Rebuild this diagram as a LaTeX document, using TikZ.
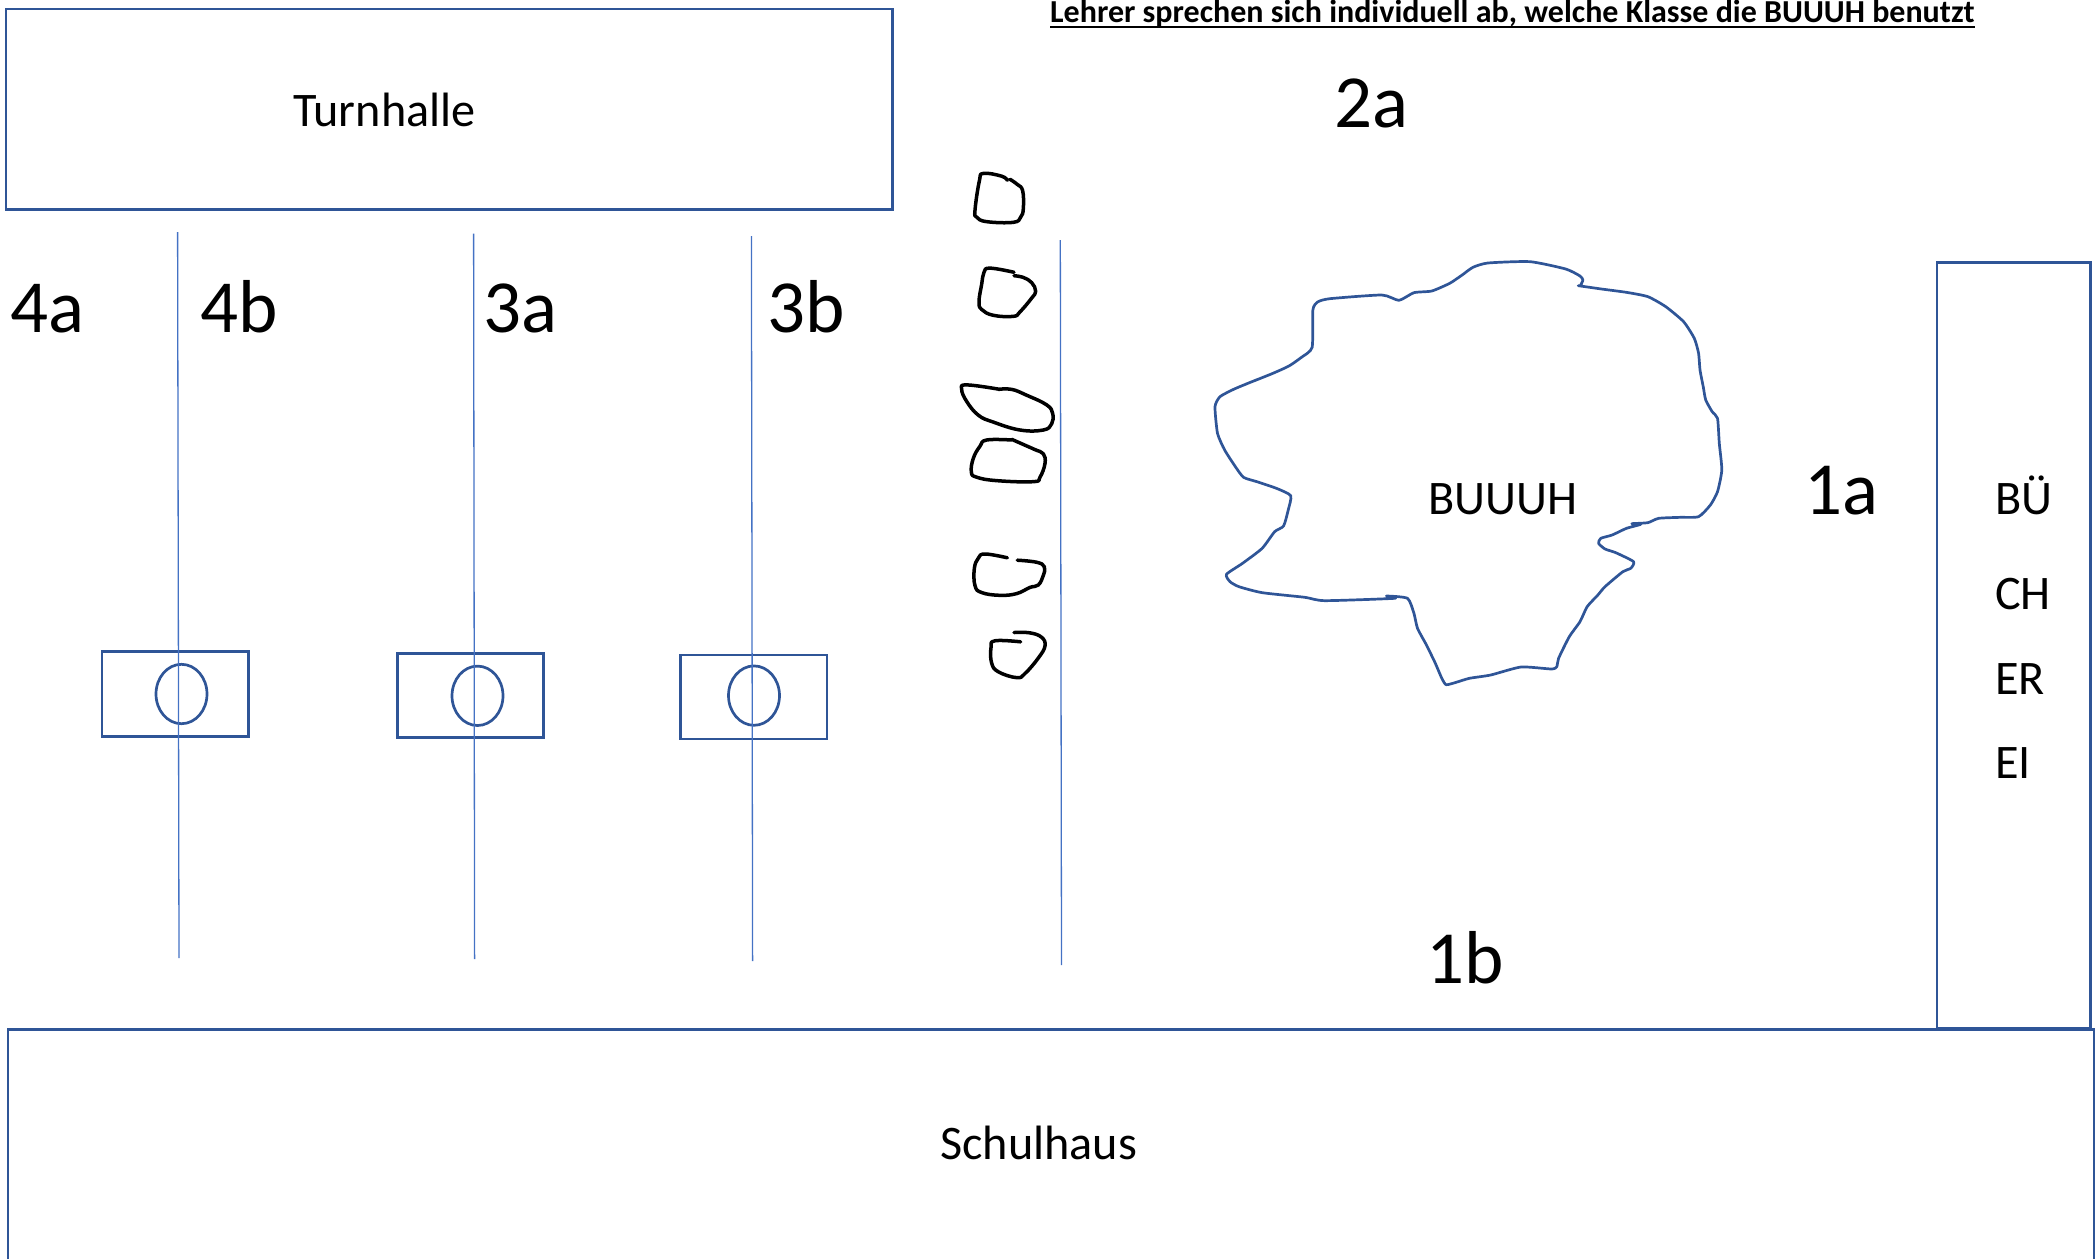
\documentclass[tikz,border=0pt]{standalone}
\usepackage{fontspec}
\setmainfont{Carlito}
\definecolor{shapeblue}{HTML}{2F5597}
\definecolor{lineblue}{HTML}{4472C4}
\tikzset{
  x=1pt,y=-1pt,
  outlinebox/.style={draw=shapeblue,line width=2.8pt},
  thinline/.style={draw=lineblue,line width=1.3pt},
  inkblack/.style={draw=black,line width=3.5pt,line cap=round,line join=round},
  inkblue/.style={draw=shapeblue,line width=2.7pt,line cap=round,line join=round},
  biglabel/.style={anchor=base west,inner sep=0pt,font=\fontsize{75}{80}\selectfont},
  midlabel/.style={anchor=base west,inner sep=0pt,font=\fontsize{48.2}{52}\selectfont},
  titlelabel/.style={anchor=base west,inner sep=0pt,font=\bfseries\fontsize{32}{36}\selectfont}
}
\begin{document}
\begin{tikzpicture}
\useasboundingbox (0,0) rectangle (2096,1259);
% buildings
\draw[outlinebox] (6,9) rectangle (892.5,209.5);
\draw[outlinebox] (1937,262.5) rectangle (2090.5,1028);
\draw[outlinebox] (8,1259) -- (8,1029.5) -- (2094,1029.5) -- (2094,1259);
% goals
\draw[outlinebox] (102,651.7) rectangle (248.4,736.3);
\draw[outlinebox] (397.3,653.3) rectangle (543.8,737.7);
\draw[outlinebox] (680.5,655) rectangle (827,739);
\draw[inkblue] (181.5,694) ellipse [x radius=25.5,y radius=29.7];
\draw[inkblue] (477.5,695.8) ellipse [x radius=25.5,y radius=29.7];
\draw[inkblue] (754,695.6) ellipse [x radius=25.5,y radius=29.7];
% court lines
\draw[thinline] (177.6,232) -- (179,958);
\draw[thinline] (473.6,233.5) -- (474.6,959);
\draw[thinline] (751.4,236) -- (752.6,961);
\draw[thinline] (1060.3,240) -- (1061.5,965);
% stones
\begin{scope}[shift={(930,150)},x=0.3333pt,y=-0.3444pt]
\draw[inkblack] plot[smooth,tension=0.7] coordinates {(232,88)(215,76)(160,68)(148,90)(135,175)(140,195)(170,208)(250,210)(272,195)(280,170)(278,118)(262,100)(240,85)};
\draw[inkblack] plot[smooth,tension=0.7] coordinates {(252,355)(180,343)(162,355)(155,390)(147,440)(155,463)(190,480)(250,483)(270,470)(305,430)(317,410)(305,385)(280,370)(252,365)};
\draw[inkblack] plot[smooth,tension=0.7] coordinates {(210,695)(110,682)(95,695)(110,730)(145,770)(190,790)(270,813)(340,813)(365,795)(368,765)(350,740)(290,712)(245,695)(205,695)};
\draw[inkblack] plot[smooth,tension=0.7] coordinates {(245,842)(170,842)(150,860)(130,895)(124,935)(140,950)(200,960)(310,963)(330,950)(345,910)(340,882)(315,870)(280,855)(245,840)};
\draw[inkblack] plot[smooth,tension=0.7] coordinates {(232,1184)(165,1173)(145,1185)(133,1215)(135,1265)(155,1285)(210,1293)(260,1288)(300,1270)(325,1263)(340,1235)(343,1210)(320,1197)(262,1191)};
\draw[inkblack] plot[smooth,tension=0.7] coordinates {(272,1428)(195,1425)(183,1445)(185,1490)(205,1515)(260,1532)(285,1520)(325,1475)(345,1440)(335,1415)(300,1402)(252,1401)};
\end{scope}
% BUUUH outline
\begin{scope}[shift={(1180,240)},x=0.35714pt,y=-0.33333pt]
\draw[inkblue] plot[smooth,tension=0.35] coordinates {(1115,137)(1180,147)(1250,157)(1310,170)(1360,200)(1410,245)(1440,295)(1452,340)(1456,390)(1465,440)(1472,480)(1490,515)(1505,535)(1510,610)(1517,690)(1505,755)(1485,795)(1452,830)(1400,832)(1340,835)(1310,848)(1265,851)(1290,853)(1250,865)(1210,885)(1178,895)(1172,910)(1190,927)(1220,938)(1270,965)(1262,985)(1240,995)(1190,1040)(1170,1065)(1140,1100)(1120,1145)(1090,1190)(1060,1255)(1055,1280)(1040,1287)(955,1281)(870,1305)(810,1315)(770,1328)(745,1334)(733,1315)(715,1270)(690,1215)(665,1165)(655,1120)(637,1075)(578,1068)(600,1075)(405,1082)(350,1072)(230,1058)(165,1040)(140,1025)(130,1003)(175,970)(230,925)(265,875)(290,858)(303,810)(310,767)(270,745)(215,725)(178,712)(155,680)(125,630)(105,580)(98,500)(112,470)(150,448)(190,430)(260,400)(305,378)(340,352)(370,322)(372,210)(385,186)(420,176)(565,165)(613,181)(655,158)(705,153)(755,130)(790,105)(820,82)(862,69)(980,65)(1080,87)(1120,108)(1128,120)(1122,135)};
\end{scope}
% labels
\node[midlabel] (turnhalle) at (293,126.5) {Turnhalle};
\node[midlabel] (schulhaus) at (940,1159) {Schulhaus};
\node[midlabel] (buuuh) at (1428,514) {BUUUH};
\node[midlabel] (bue) at (1995,514) {BÜ};
\node[midlabel] (ch) at (1995,609) {CH};
\node[midlabel] (er) at (1995,694) {ER};
\node[midlabel] (ei) at (1995,778) {EI};
\node[biglabel] (l4a) at (10,332) {4a};
\node[biglabel] (l4b) at (200,332) {4b};
\node[biglabel] (l3a) at (483,332) {3a};
\node[biglabel] (l3b) at (767,332) {3b};
\node[biglabel] (l2a) at (1334,127) {2a};
\node[biglabel] (l1a) at (1804,514) {1a};
\node[biglabel] (l1b) at (1426,983) {1b};
\node[titlelabel] (title) at (1050,22.5) {Lehrer sprechen sich individuell ab, welche Klasse die BUUUH benutzt};
\draw[black,line width=2.2pt] ([yshift=-4.8pt]title.base west) -- ([yshift=-4.8pt]title.base east);
\end{tikzpicture}
\end{document}
